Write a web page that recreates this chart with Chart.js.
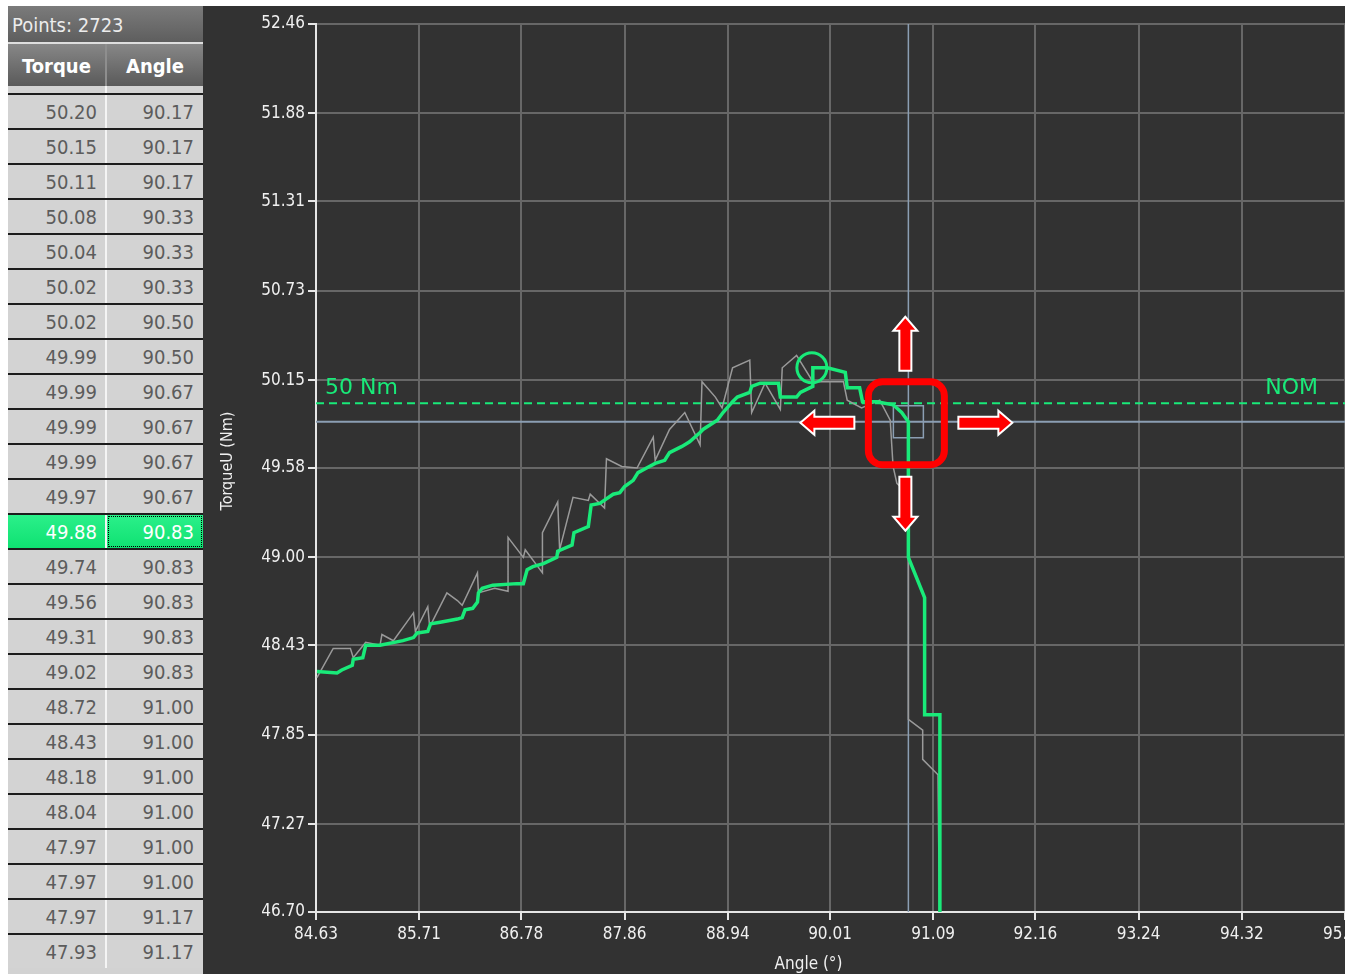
<!DOCTYPE html>
<html><head><meta charset="utf-8">
<script src="https://cdn.jsdelivr.net/npm/chart.js@4/dist/chart.umd.min.js"></script>
<style>
html,body{margin:0;padding:0;width:1345px;height:974px;overflow:hidden;background:#fff;}
#grid{position:absolute;left:8px;top:6px;width:195px;height:968px;background:#d2d2d2;overflow:hidden;}
#ptsHdr{position:absolute;left:0;top:0;width:195px;height:36px;background:linear-gradient(#7b7b7b,#5e5e5e);color:#ececec;font:20px "DejaVu Sans Condensed","DejaVu Sans",sans-serif;line-height:38px;padding-left:4px;box-sizing:border-box;}
#hsep{position:absolute;left:0;top:36px;width:195px;height:2px;background:#dedede;}
#colHdr{position:absolute;top:38px;left:0;width:195px;height:42px;background:linear-gradient(#878787,#5a5a5a);}
#colHdr .div{position:absolute;left:97px;top:0;width:2px;height:42px;background:#8e8e8e;}
.hc{position:absolute;top:0;height:42px;text-align:center;color:#fff;font:bold 20px "DejaVu Sans Condensed","DejaVu Sans",sans-serif;line-height:44px;}
.c1{left:0;width:97px}.c2{left:99px;width:96px}
#rows{position:absolute;top:80px;left:0;width:195px;height:888px;overflow:hidden;background:#d2d2d2;}
.row{position:absolute;left:0;width:195px;height:35px;box-sizing:border-box;border-top:2px solid #1c1c1c;background:#f4f4f4;}
.cell{position:absolute;top:0;height:33px;text-align:right;font:20px "DejaVu Sans Condensed","DejaVu Sans",sans-serif;line-height:35px;color:#5c5c5c;background:#d3d3d3;box-sizing:border-box;}
.row .a{left:0;width:97px;padding-right:8px;}
.row .b{left:99px;width:96px;padding-right:9px;}
.sel .cell{background:linear-gradient(#2bf08a,#0fe172);color:#fff;}
.sel .b{outline:1px dotted #000;outline-offset:-2px;}
#chartWrap{position:absolute;left:203px;top:6px;width:1202px;height:968px;background:#323232;}
#chartWrap canvas{display:block;}
</style>
</head>
<body>
<div id="grid">
  <div id="ptsHdr">Points: 2723</div>
  <div id="hsep"></div>
  <div id="colHdr"><div class="hc c1">Torque</div><div class="div"></div><div class="hc c2">Angle</div></div>
  <div id="rows"></div>
</div>
<div id="chartWrap"><canvas id="c" width="1202" height="968"></canvas></div>
<script>
// ---- table data (first row is scrolled partially out of view) ----
const tableTorque = ["50.22","50.20","50.15","50.11","50.08","50.04","50.02","50.02","49.99","49.99","49.99","49.99","49.97","49.88","49.74","49.56","49.31","49.02","48.72","48.43","48.18","48.04","47.97","47.97","47.97","47.93"];
const tableAngle  = ["90.17","90.17","90.17","90.17","90.33","90.33","90.33","90.50","90.50","90.67","90.67","90.67","90.67","90.83","90.83","90.83","90.83","90.83","91.00","91.00","91.00","91.00","91.00","91.00","91.17","91.17"];
const selectedRow = 13;
const pointsCount = 2723;

// ---- axis ticks ----
const xTickValues = [84.63,85.71,86.78,87.86,88.94,90.01,91.09,92.16,93.24,94.32,95.40];
const yTickValues = [46.70,47.27,47.85,48.43,49.00,49.58,50.15,50.73,51.31,51.88,52.46];

// ---- filtered (green) curve ----
const filteredAngle = [84.64,84.85,84.90,85.01,85.02,85.12,85.15,85.30,85.54,85.65,85.69,85.80,85.83,85.93,86.11,86.16,86.19,86.27,86.32,86.33,86.37,86.48,86.73,86.80,86.84,86.90,87.01,87.15,87.16,87.31,87.33,87.48,87.51,87.60,87.74,87.81,87.86,87.95,88.00,88.09,88.18,88.28,88.33,88.46,88.54,88.65,88.68,88.83,88.89,88.99,89.04,89.17,89.19,89.28,89.47,89.49,89.66,89.70,89.83,89.83,89.98,90.17,90.19,90.32,90.35,90.50,90.67,90.76,90.83,90.83,91.00,91.00,91.16,91.16];
const filteredTorque = [48.26,48.25,48.27,48.30,48.34,48.35,48.43,48.43,48.46,48.48,48.51,48.52,48.57,48.58,48.60,48.61,48.66,48.67,48.71,48.77,48.80,48.82,48.83,48.83,48.92,48.94,48.96,49.00,49.04,49.08,49.16,49.20,49.34,49.35,49.41,49.42,49.46,49.50,49.55,49.58,49.61,49.63,49.68,49.72,49.75,49.81,49.83,49.89,49.94,50.01,50.04,50.07,50.11,50.13,50.13,50.04,50.04,50.07,50.11,50.23,50.23,50.20,50.10,50.10,50.01,50.01,49.99,49.94,49.88,49.00,48.74,47.98,47.98,46.40];

// ---- raw (grey) curve ----
const rawAngle = [84.64,84.81,84.99,85.02,85.15,85.30,85.32,85.44,85.65,85.67,85.80,85.82,86.00,86.11,86.16,86.32,86.33,86.50,86.64,86.64,86.80,86.82,87.00,87.00,87.16,87.18,87.32,87.48,87.50,87.65,87.67,87.83,87.99,88.16,88.18,88.33,88.49,88.65,88.67,88.81,88.88,88.99,89.17,89.19,89.33,89.49,89.51,89.66,89.83,90.15,90.19,90.34,90.53,90.64,90.67,90.71,90.83,90.83,90.98,90.98,91.14,91.16];
const rawTorque = [48.22,48.41,48.41,48.35,48.45,48.43,48.50,48.46,48.64,48.52,48.68,48.55,48.77,48.72,48.69,48.90,48.77,48.80,48.78,49.13,49.00,49.05,48.90,49.16,49.36,49.05,49.39,49.37,49.41,49.32,49.64,49.59,49.58,49.78,49.63,49.83,49.94,49.73,50.14,50.04,49.97,50.23,50.28,49.94,50.13,49.96,50.23,50.31,50.14,50.14,50.02,49.97,50.02,49.89,49.59,49.48,49.41,47.95,47.88,47.69,47.59,46.40];

// ---- peak marker, nominal, selection ----
const peakAngle = [89.82];
const peakTorque = [50.23];
const nominalTorque = 50.00;
const nominalLabelLeft = "50 Nm";
const nominalLabelRight = "NOM";
const selAngle = 90.83;
const selTorque = 49.88;
const xTitle = "Angle (°)";
const yTitle = "TorqueU (Nm)";

// build table
const rowsEl = document.getElementById('rows');
tableTorque.forEach((t, i) => {
  const r = document.createElement('div');
  r.className = 'row' + (i === selectedRow ? ' sel' : '');
  r.style.top = (-28 + 35 * i) + 'px';
  r.innerHTML = '<div class="cell a">' + t + '</div><div class="cell b">' + tableAngle[i] + '</div>';
  rowsEl.appendChild(r);
});
document.getElementById('ptsHdr').textContent = 'Points: ' + pointsCount;

const GREEN = '#19ea79';
const FONT = '"DejaVu Sans Condensed","DejaVu Sans",sans-serif';
Chart.defaults.font.family = FONT;

function arrow(ctx, tipX, tipY, ang) {
  const L = 54, H = 14, sw = 6, hw = 12;
  ctx.save();
  ctx.translate(tipX, tipY);
  ctx.rotate(ang);
  ctx.beginPath();
  ctx.moveTo(0, 0); ctx.lineTo(-H, -hw); ctx.lineTo(-H, -sw); ctx.lineTo(-L, -sw);
  ctx.lineTo(-L, sw); ctx.lineTo(-H, sw); ctx.lineTo(-H, hw); ctx.closePath();
  ctx.fillStyle = '#ff0000'; ctx.fill();
  ctx.strokeStyle = '#ffffff'; ctx.lineWidth = 2; ctx.lineJoin = 'miter'; ctx.stroke();
  ctx.restore();
}

const overlay = {
  id: 'overlay',
  beforeDatasetsDraw(chart) {
    const {ctx, chartArea: a, scales: {x, y}} = chart;
    ctx.save();
    ctx.beginPath(); ctx.rect(a.left, a.top, a.right - a.left, a.bottom - a.top); ctx.clip();
    const ny = y.getPixelForValue(nominalTorque);
    ctx.strokeStyle = GREEN; ctx.lineWidth = 2; ctx.setLineDash([8, 5]);
    ctx.beginPath(); ctx.moveTo(a.left, ny); ctx.lineTo(a.right, ny); ctx.stroke();
    ctx.setLineDash([]);
    const cx = x.getPixelForValue(selAngle), cy = y.getPixelForValue(selTorque);
    ctx.strokeStyle = '#8b9eb3'; ctx.lineWidth = 2;
    ctx.beginPath(); ctx.moveTo(a.left, cy); ctx.lineTo(a.right, cy); ctx.stroke();
    ctx.lineWidth = 1.5;
    ctx.beginPath(); ctx.moveTo(cx, a.top); ctx.lineTo(cx, a.bottom); ctx.stroke();
    ctx.strokeRect(cx - 15, cy - 16, 30, 32);
    ctx.fillStyle = GREEN; ctx.font = '22px "DejaVu Sans",sans-serif'; ctx.textBaseline = 'alphabetic';
    ctx.textAlign = 'left'; ctx.fillText(nominalLabelLeft, a.left + 9, ny - 9);
    ctx.textAlign = 'right'; ctx.fillText(nominalLabelRight, a.right - 27, ny - 9);
    ctx.restore();
  },
  afterDraw(chart) {
    const {ctx, chartArea: a, scales: {x, y}} = chart;
    const cx = x.getPixelForValue(selAngle), cy = y.getPixelForValue(selTorque);
    ctx.save();
    ctx.fillStyle = '#f0f0f0'; ctx.textAlign = 'center'; ctx.textBaseline = 'middle';
    ctx.font = '17px ' + FONT;
    ctx.fillText(xTitle, (a.left + a.right) / 2 - 22, a.bottom + 53);
    ctx.save();
    ctx.translate(a.left - 88, (a.top + a.bottom) / 2 - 7);
    ctx.rotate(-Math.PI / 2);
    ctx.font = '16px ' + FONT;
    ctx.fillText(yTitle, 0, 0);
    ctx.restore();
    ctx.strokeStyle = '#ff0000'; ctx.lineWidth = 7;
    ctx.beginPath(); ctx.roundRect(cx - 40, cy - 40, 76, 83, 14); ctx.stroke();
    arrow(ctx, cx - 3, cy - 105, -Math.PI / 2);
    arrow(ctx, cx - 3, cy + 109, Math.PI / 2);
    arrow(ctx, cx - 108, cy + 1, Math.PI);
    arrow(ctx, cx + 104, cy + 1, 0);
    ctx.restore();
  }
};

const toPts = (xs, ys) => xs.map((v, i) => ({x: v, y: ys[i]}));

new Chart(document.getElementById('c'), {
  type: 'scatter',
  data: {
    datasets: [
      {label: 'Peak', data: toPts(peakAngle, peakTorque), showLine: false, pointRadius: 15, pointHoverRadius: 15,
       pointBorderWidth: 3, pointBorderColor: GREEN, pointBackgroundColor: 'rgba(0,0,0,0)', order: 0},
      {label: 'TorqueU filtered', data: toPts(filteredAngle, filteredTorque), showLine: true, borderColor: GREEN,
       borderWidth: 3.5, pointRadius: 0, tension: 0, order: 1},
      {label: 'TorqueU raw', data: toPts(rawAngle, rawTorque), showLine: true, borderColor: '#9a9a9a',
       borderWidth: 1.5, pointRadius: 0, tension: 0, order: 2}
    ]
  },
  options: {
    responsive: false, animation: false, devicePixelRatio: 1, events: [],
    layout: {padding: {top: 18, right: 60, bottom: 0, left: 0}},
    plugins: {legend: {display: false}, tooltip: {enabled: false}},
    scales: {
      x: {
        type: 'linear', min: xTickValues[0], max: xTickValues[xTickValues.length - 1],
        afterBuildTicks(s) { s.ticks = xTickValues.map(v => ({value: v})); },
        afterFit(s) { s.height = 62; },
        ticks: {color: '#f0f0f0', font: {size: 17}, padding: 4, maxRotation: 0, autoSkip: false,
                callback: v => Number(v).toFixed(2)},
        grid: {color: '#676767', lineWidth: 2, tickLength: 8, tickColor: '#e6e6e6', tickWidth: 2},
        border: {color: '#e6e6e6', width: 2}
      },
      y: {
        type: 'linear', min: yTickValues[0], max: yTickValues[yTickValues.length - 1],
        afterBuildTicks(s) { s.ticks = yTickValues.map(v => ({value: v})); },
        afterFit(s) { s.width = 113; },
        ticks: {color: '#f0f0f0', font: {size: 17}, padding: 3, autoSkip: false,
                callback: v => Number(v).toFixed(2)},
        grid: {color: '#676767', lineWidth: 2, tickLength: 8, tickColor: '#e6e6e6', tickWidth: 2},
        border: {color: '#e6e6e6', width: 2}
      }
    }
  },
  plugins: [overlay]
});
</script>
</body></html>
